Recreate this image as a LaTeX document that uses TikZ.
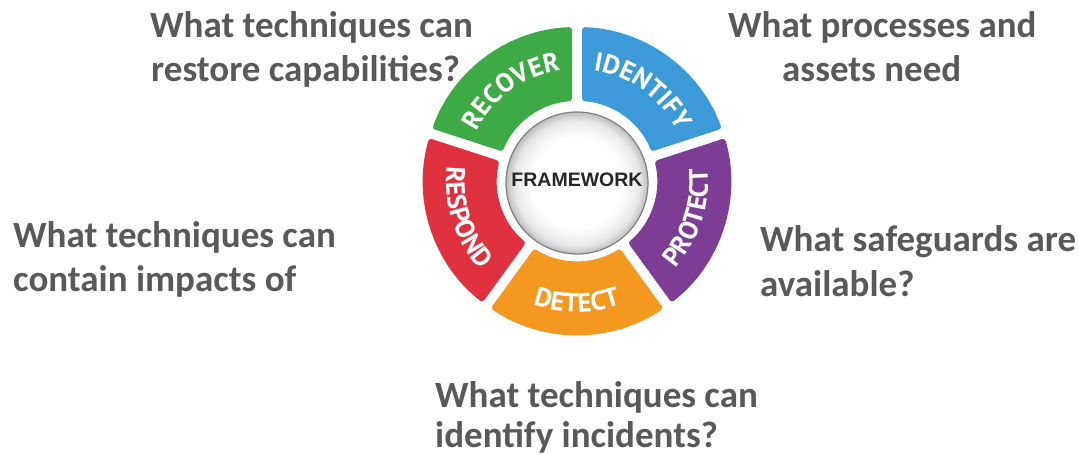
\documentclass[tikz,border=0pt]{standalone}
\usepackage{fontspec}
\setmainfont{Carlito}
\newfontfamily\segfont{PT Sans}
\newfontfamily\fwfont{Liberation Sans}
\usetikzlibrary{decorations.text}
\definecolor{qgray}{HTML}{595959}
\definecolor{idblue}{HTML}{3C9AD8}
\definecolor{prpurple}{HTML}{7E3D94}
\definecolor{deorange}{HTML}{F5981F}
\definecolor{rsred}{HTML}{E0323E}
\definecolor{rcgreen}{HTML}{3DAA45}
\pgfdeclareradialshading{fwshade}{\pgfpoint{0bp}{0bp}}{color(0bp)=(white); color(16bp)=(white); color(22bp)=(black!9); color(25bp)=(black!26); color(50bp)=(black!26)}
\newcommand{\segtext}{\segfont\bfseries\fontsize{26.5}{26.5}\selectfont\color{white}}
\tikzset{
  qtext/.style={font=\bfseries\fontsize{37}{44}\selectfont, text=qgray, inner sep=0pt, anchor=base west},
  segtop/.style={decorate, decoration={text along path, text align=center, text={|\segtext|#1}}},
}
\begin{document}
\begin{tikzpicture}[x=1pt,y=1pt]
\useasboundingbox (0,0) rectangle (1079,455);
\begin{scope}[shift={(577,274)}]
  % segments: start angle / colour
  \foreach \a/\col in {18/idblue, -54/prpurple, -126/deorange, 162/rsred, 90/rcgreen} {
    \fill[\col, rounded corners=3pt]
      ({\a+1.86}:154) arc[start angle={\a+1.86}, end angle={\a+72-1.86}, radius=154]
      -- ({\a+72-3.58}:80) arc[start angle={\a+72-3.58}, end angle={\a+3.58}, radius=80]
      -- cycle;
  }
  % labels on segments (tops outward: clockwise; tops inward: counter-clockwise)
  \path[segtop=RECOVER] (160:112) arc[start angle=160, end angle=92, radius=112];
  \path[segtop=IDENTIFY] (88:112) arc[start angle=88, end angle=20, radius=112];
  \path[segtop=PROTECT] (-52:131) arc[start angle=-52, end angle=16, radius=131];
  \path[segtop=DETECT] (-124:131) arc[start angle=-124, end angle=-56, radius=131];
  \path[segtop=RESPOND] (164:131) arc[start angle=164, end angle=232, radius=131];
  % centre disc
  \shade[shading=fwshade, draw=black!50, line width=1.2pt] (0,-2) circle (71);
  \node[font=\fwfont\bfseries\fontsize{19.5}{19.5}\selectfont, text=black!85, inner sep=0pt] (fw) at (0,1) {FRAMEWORK};
\end{scope}
% questions
\node[qtext] (tl1) at (150,417) {What techniques can};
\begin{scope}
  \clip (0,367) rectangle (1079,455);
  \node[qtext] (tl2) at (151,373) {restore capabilities?};
\end{scope}
\node[qtext] (tr1) at (728,417) {What processes and};
\node[qtext] (tr2) at (782,373) {assets need};
\node[qtext] (l1) at (13,207) {What techniques can};
\begin{scope}
  \clip (0,157) rectangle (1079,455);
  \node[qtext] (l2) at (13,163) {contain impacts of};
\end{scope}
\node[qtext] (r1) at (760,203) {What safeguards are};
\node[qtext] (r2) at (760,158) {available?};
\node[qtext] (b1) at (435,47) {What techniques can};
\node[qtext] (b2) at (435,7) {identify incidents?};
\end{tikzpicture}
\end{document}
